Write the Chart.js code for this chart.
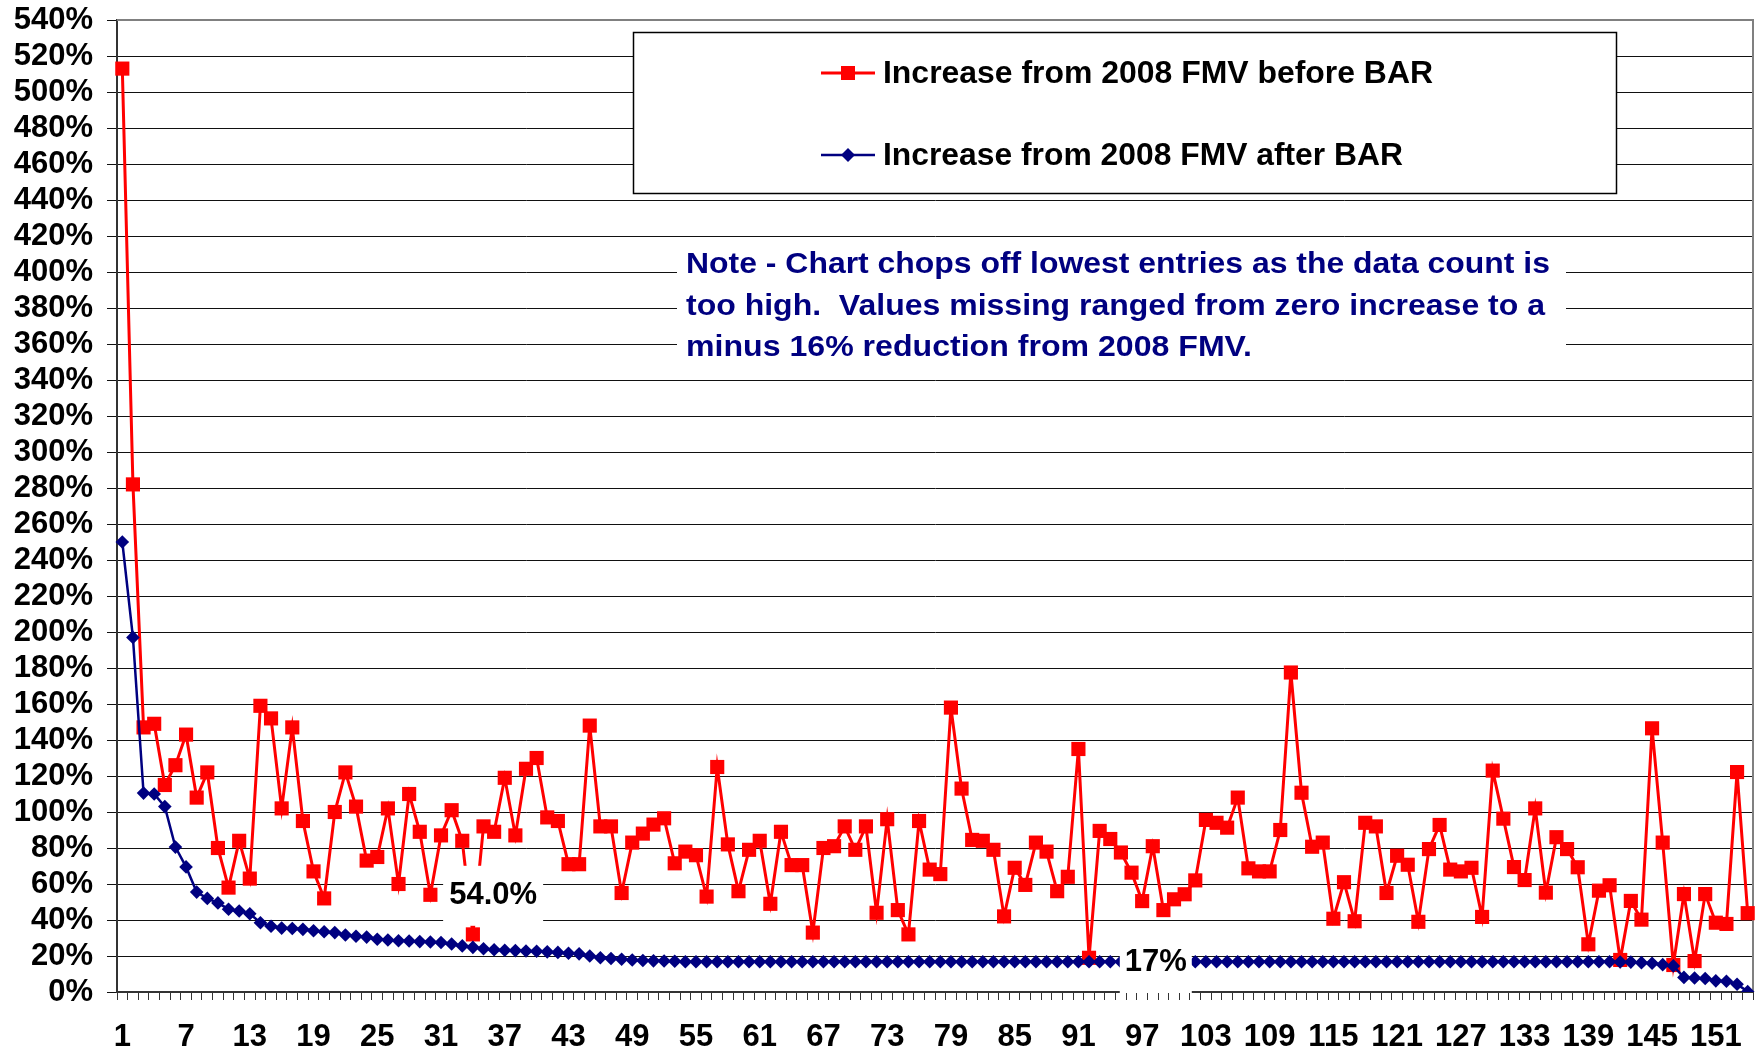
<!DOCTYPE html>
<html>
<head>
<meta charset="utf-8">
<script src="https://cdn.jsdelivr.net/npm/chart.js@4"></script>
<style>
html, body { margin: 0; padding: 0; background: #ffffff; }
canvas { display: block; }
</style>
</head>
<body>
<canvas id="c" width="1764" height="1054"></canvas>
<script>
const categories = [
  '1','2','3','4','5','6','7','8','9','10','11','12','13','14','15','16','17','18','19','20',
  '21','22','23','24','25','26','27','28','29','30','31','32','33','34','35','36','37','38','39','40',
  '41','42','43','44','45','46','47','48','49','50','51','52','53','54','55','56','57','58','59','60',
  '61','62','63','64','65','66','67','68','69','70','71','72','73','74','75','76','77','78','79','80',
  '81','82','83','84','85','86','87','88','89','90','91','92','93','94','95','96','97','98','99','100',
  '101','102','103','104','105','106','107','108','109','110','111','112','113','114','115','116','117','118','119','120',
  '121','122','123','124','125','126','127','128','129','130','131','132','133','134','135','136','137','138','139','140',
  '141','142','143','144','145','146','147','148','149','150','151','152','153','154'
];

// Increase from 2008 FMV before BAR (%)
const beforeBAR = [
  513, 282, 147, 149, 115, 126, 143, 108, 122, 80, 58, 84, 63, 159, 152, 102, 147, 95, 67, 52,
  100, 122, 103, 73, 75, 102, 60, 110, 89, 54, 87, 101, 84, 32, 92, 89, 119, 87,
  124, 130, 97, 95, 71, 71, 148, 92, 92, 55, 83, 88, 93, 96.5, 71.5, 78, 76, 53, 125,
  82, 56, 79, 84, 49, 89, 70.5, 70.5, 33, 80, 81, 92, 79, 92, 44, 96, 45.5, 32, 95,
  68, 65.5, 158, 113, 84.5, 84, 79, 42, 69, 59.5, 83, 78, 56, 64, 135, 19, 89.5, 85, 77.5,
  66.3, 50.5, 81, 45.5, 51.5, 54.3, 62, 95.6, 94, 91.3, 108, 68.7, 67, 67, 90, 177.5, 110.7, 80.7,
  83, 40.7, 61, 39.3, 94, 92, 55, 75.7, 70.7, 39, 79.4, 92.8, 68, 67, 69, 41.7, 123, 96.3,
  69.4, 62.2, 102, 55.2, 86, 79.4, 69.3, 26.5, 56.3, 59.3, 17.8, 50.6, 40.2, 146.5, 83, 15, 54.4, 17.2, 54.4, 38.5, 37.8, 122.2, 43.8
];

// Increase from 2008 FMV after BAR (%)
const afterBAR = [
  250, 197, 110.5, 110, 103, 80.5, 69.5, 55.5, 52, 49.5, 46, 45, 43.5, 38.5, 36.5, 35.5, 35.3, 34.8, 34, 33.5,
  33, 31.7, 31, 30.5, 29.3, 28.9, 28.5, 28.3, 28, 27.8, 27.5, 26.7, 25.6, 24.8, 24, 23.5, 23.2, 23,
  22.8, 22.6, 22.3, 22, 21.5, 21.2, 20, 19, 18.6, 18.2, 17.8, 17.5, 17.3, 17.2, 17.1,
  16.8, 16.8, 16.8, 16.8, 16.8, 16.8, 16.8, 16.8, 16.8, 16.8, 16.8,
  16.8, 16.8, 16.8, 16.8, 16.8, 16.8, 16.8, 16.8, 16.8, 16.8, 16.8,
  16.8, 16.8, 16.8, 16.8, 16.8, 16.8, 16.8, 16.8, 16.8, 16.8, 16.8,
  16.8, 16.8, 16.8, 16.8, 16.8, 16.8, 16.8, 16.8, 16.8, 16.8, 16.8,
  16.8, 16.8, 16.8, 16.8, 16.8, 16.8, 16.8, 16.8, 16.8, 16.8, 16.8,
  16.8, 16.8, 16.8, 16.8, 16.8, 16.8, 16.8, 16.8, 16.8, 16.8, 16.8,
  16.8, 16.8, 16.8, 16.8, 16.8, 16.8, 16.8, 16.8, 16.8, 16.8, 16.8,
  16.8, 16.8, 16.8, 16.8, 16.8, 16.8, 16.8, 16.8, 16.8, 16.8, 16.8,
  16.7, 16.6, 16.3, 16, 15.2, 14.5, 8.1, 7.8, 7.5, 6.2, 6, 4.3, 0.2
];

const seriesNames = ['Increase from 2008 FMV before BAR', 'Increase from 2008 FMV after BAR'];
const noteLines = [
  'Note - Chart chops off lowest entries as the data count is',
  'too high.  Values missing ranged from zero increase to a',
  'minus 16% reduction from 2008 FMV.'
];
const calloutTexts = ['54.0%', '17%'];

const FONT = '"Liberation Sans", Arial, Helvetica, sans-serif';
const RED = '#FF0000';
const NAVY = '#000080';

function drawStretched(ctx, text, x, y, targetW) {
  const w = ctx.measureText(text).width;
  const s = targetW / w;
  ctx.save();
  ctx.translate(x, y);
  ctx.scale(s, 1);
  ctx.fillText(text, 0, 0);
  ctx.restore();
}

const overlay = {
  id: 'overlay',
  beforeDatasetsDraw(chart) {
    const { ctx, chartArea: a } = chart;
    ctx.save();
    ctx.strokeStyle = '#808080';
    ctx.lineWidth = 2;
    ctx.beginPath();
    ctx.moveTo(a.left, a.top);
    ctx.lineTo(a.right, a.top);
    ctx.lineTo(a.right, a.bottom);
    ctx.stroke();
    ctx.restore();
  },
  afterDatasetsDraw(chart) {
    const { ctx, chartArea: a } = chart;
    const xs = chart.scales.x, ys = chart.scales.y;
    ctx.save();

    // Note text box
    ctx.fillStyle = '#ffffff';
    ctx.fillRect(677, 244, 889, 128);
    ctx.fillStyle = NAVY;
    ctx.font = 'bold 29px ' + FONT;
    ctx.textBaseline = 'middle';
    ctx.textAlign = 'left';
    const noteW = [864, 859, 566];
    noteLines.forEach((t, i) => drawStretched(ctx, t, 686, 265 + i * 41.5, noteW[i]));

    // Legend box
    ctx.fillStyle = '#ffffff';
    ctx.fillRect(633, 32, 984, 162);
    ctx.strokeStyle = '#000000';
    ctx.lineWidth = 1.5;
    ctx.strokeRect(633.5, 32.5, 983, 161);

    const legY = [73, 155];
    ctx.strokeStyle = RED; ctx.lineWidth = 3;
    ctx.beginPath(); ctx.moveTo(821, legY[0]); ctx.lineTo(875, legY[0]); ctx.stroke();
    ctx.fillStyle = RED; ctx.fillRect(848 - 7, legY[0] - 7, 14, 14);
    ctx.strokeStyle = NAVY; ctx.lineWidth = 2.5;
    ctx.beginPath(); ctx.moveTo(821, legY[1]); ctx.lineTo(875, legY[1]); ctx.stroke();
    ctx.fillStyle = NAVY;
    ctx.beginPath();
    ctx.moveTo(848, legY[1] - 7); ctx.lineTo(855, legY[1]); ctx.lineTo(848, legY[1] + 7); ctx.lineTo(841, legY[1]);
    ctx.closePath(); ctx.fill();

    ctx.fillStyle = '#000000';
    ctx.font = 'bold 31px ' + FONT;
    drawStretched(ctx, seriesNames[0], 883, legY[0] + 1, 550);
    drawStretched(ctx, seriesNames[1], 883, legY[1] + 1, 520);

    // Callout "54.0%"
    ctx.textAlign = 'center';
    ctx.textBaseline = 'middle';
    ctx.font = 'bold 31px ' + FONT;
    let cx = xs.getPixelForValue(35) - 1;
    let cy = ys.getPixelForValue(54);
    ctx.fillStyle = '#ffffff';
    ctx.fillRect(cx - 50, cy - 29, 100, 60);
    ctx.fillStyle = '#000000';
    ctx.fillText(calloutTexts[0], cx, cy + 1);

    // Callout "17%"
    cx = xs.getPixelForValue(97) + 3;
    cy = ys.getPixelForValue(17);
    ctx.fillStyle = '#ffffff';
    ctx.fillRect(cx - 36, cy - 27, 72, a.bottom + 1 - (cy - 27));
    ctx.fillStyle = '#000000';
    ctx.fillText(calloutTexts[1], cx, cy + 1);

    ctx.restore();
  }
};

new Chart(document.getElementById('c'), {
  type: 'line',
  data: {
    labels: categories,
    datasets: [
      {
        label: seriesNames[0],
        data: beforeBAR,
        borderColor: RED,
        backgroundColor: RED,
        borderWidth: 3,
        pointStyle: 'rect',
        pointRadius: 10,
        pointBorderWidth: 0,
        pointBackgroundColor: RED,
        pointBorderColor: RED,
        tension: 0,
        order: 2
      },
      {
        label: seriesNames[1],
        data: afterBAR,
        borderColor: NAVY,
        backgroundColor: NAVY,
        borderWidth: 2.5,
        pointStyle: 'rectRot',
        pointRadius: 6.8,
        pointBorderWidth: 0,
        pointBackgroundColor: NAVY,
        pointBorderColor: NAVY,
        tension: 0,
        order: 1
      }
    ]
  },
  options: {
    responsive: false,
    animation: false,
    devicePixelRatio: 1,
    layout: { padding: { top: 20, right: 11, left: 0, bottom: 0 } },
    plugins: {
      legend: { display: false },
      tooltip: { enabled: false },
      title: { display: false }
    },
    scales: {
      x: {
        type: 'category',
        offset: true,
        grid: {
          offset: true,
          drawOnChartArea: false,
          drawTicks: true,
          tickLength: 8,
          color: '#333333',
          lineWidth: 1
        },
        border: { color: '#333333', width: 2 },
        ticks: {
          autoSkip: false,
          maxRotation: 0,
          minRotation: 0,
          padding: 19,
          color: '#000000',
          font: { family: FONT, size: 31, weight: 'bold' },
          callback: function (value, index) {
            return index % 6 === 0 ? this.getLabelForValue(value) : '';
          }
        },
        afterFit: function (s) {
          s.height = 62;
          s.paddingLeft = 0;
          s.paddingRight = 0;
        }
      },
      y: {
        min: 0,
        max: 540,
        grid: { color: '#111111', lineWidth: 1, tickLength: 10, drawTicks: true },
        border: { color: '#333333', width: 2 },
        ticks: {
          stepSize: 20,
          autoSkip: false,
          padding: 14,
          color: '#000000',
          font: { family: FONT, size: 31, weight: 'bold' },
          callback: (v) => v + '%'
        },
        afterFit: function (s) {
          s.width = 117;
          s.paddingTop = 0;
          s.paddingBottom = 0;
        }
      }
    }
  },
  plugins: [overlay]
});
</script>
</body>
</html>
